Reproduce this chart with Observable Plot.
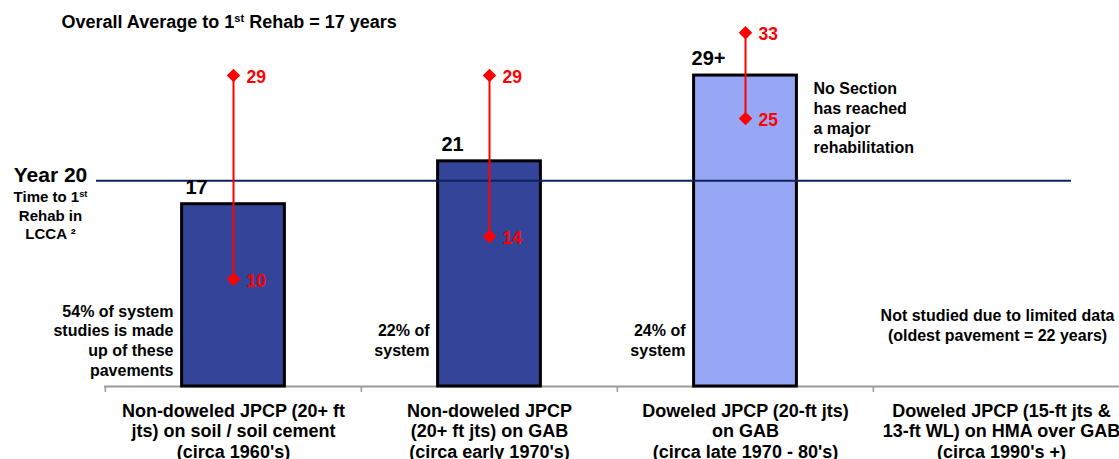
<!DOCTYPE html>
<html><head><meta charset="utf-8">
<script src="https://cdn.jsdelivr.net/npm/d3@7"></script>
<script src="https://cdn.jsdelivr.net/npm/@observablehq/plot@0.6"></script>
<style>
html,body{margin:0;padding:0;background:#fff;overflow:hidden;}
</style></head><body><div id="chart"></div>
<script>
// ---- data ----
const categories = [
  "Non-doweled JPCP (20+ ft\njts) on soil / soil cement\n(circa 1960's)",
  "Non-doweled JPCP\n(20+ ft jts) on GAB\n(circa early 1970's)",
  "Doweled JPCP (20-ft jts)\non GAB\n(circa late 1970 - 80's)",
  "Doweled JPCP (15-ft jts &\n13-ft WL) on HMA over GAB\n(circa 1990's +)"
];
const averageYears = [17, 21, 29, null];
const averageLabels = ["17", "21", "29+", null];
const reachedRehab = [true, true, false, null];
const minYears = [10, 14, 25, null];
const maxYears = [29, 29, 33, null];
const shareNotes = [
  "54% of system\nstudies is made\nup of these\npavements",
  "22% of\nsystem",
  "24% of\nsystem",
  null
];
const benchmarkYear = 19.2; // drawn "Year 20" line position
const titleText = "Overall Average to 1^st Rehab = 17 years";
const benchmarkLabel = "Year 20";
const benchmarkNote = "Time to 1^st\nRehab in\nLCCA ²";
const noRehabNote = "No Section\nhas reached\na major\nrehabilitation";
const notStudiedNote = "Not studied due to limited data\n(oldest pavement = 22 years)";

// ---- table ----
const rows = categories.map((cat, i) => ({
  cat, avg: averageYears[i], label: averageLabels[i], reached: reachedRehab[i],
  min: minYears[i], max: maxYears[i], note: shareNotes[i]
}));
const measured = rows.filter(d => d.avg != null);
const ends = measured.flatMap(d => [{cat: d.cat, v: d.min}, {cat: d.cat, v: d.max}]);

const DARK = "#334499", LIGHT = "#97a7f6", RED = "#ff0000";
const FONT = "'Liberation Sans', Arial, Helvetica, sans-serif";

const chart = Plot.plot({
  width: 1119,
  height: 459,
  marginLeft: 104,
  marginRight: 0,
  marginTop: 0,
  marginBottom: 73,
  style: {fontFamily: FONT, fontWeight: "bold", background: "#fff", color: "#000"},
  x: {domain: categories, range: [104, 1129], padding: 0, axis: null},
  y: {domain: [0, 36], axis: null},
  marks: [
    Plot.ruleY([0], {stroke: "#999", strokeWidth: 2}),
    Plot.barY(measured, {
      x: "cat", y: "avg",
      fill: d => d.reached ? DARK : LIGHT,
      stroke: "#000", strokeWidth: 3,
      insetLeft: 76.6, insetRight: 76.6
    }),
    Plot.ruleX(categories, {x: d => d, y1: 0, y2: -0.55, dx: -128.125, stroke: "#999", strokeWidth: 1.5}),
    Plot.ruleY([benchmarkYear], {stroke: "#0b2160", strokeWidth: 2, insetLeft: -8, insetRight: 48}),
    Plot.ruleX(measured, {x: "cat", y1: "min", y2: "max", stroke: RED, strokeWidth: 2}),
    Plot.dot(ends, {x: "cat", y: "v", symbol: "diamond2", r: 6.1, fill: RED, stroke: "none"}),
    Plot.text(ends, {x: "cat", y: "v", text: d => String(d.v), fill: RED, fontSize: 17.5, textAnchor: "start", dx: 13, dy: 2}),
    Plot.text(measured, {x: "cat", y: "avg", text: "label", fill: "#000", fontSize: 20, dx: -37, dy: -17}),
    Plot.text(measured, {x: "cat", text: "note", frameAnchor: "top", lineAnchor: "middle", dy: 339.5, dx: -60, textAnchor: "end", fontSize: 16, lineHeight: 1.24, fill: "#000"}),
    Plot.text([noRehabNote], {x: () => categories[2], text: d => d, frameAnchor: "top", lineAnchor: "middle", dy: 117, dx: 68, textAnchor: "start", fontSize: 16, lineHeight: 1.22, fill: "#000"}),
    Plot.text([notStudiedNote], {x: () => categories[3], text: d => d, frameAnchor: "top", lineAnchor: "middle", dy: 324, dx: -4, textAnchor: "middle", fontSize: 16, lineHeight: 1.25, fill: "#000"}),
    Plot.text([titleText], {text: d => d, frameAnchor: "top-left", lineAnchor: "middle", dx: -43, dy: 22, textAnchor: "start", fontSize: 18, fill: "#000"}),
    Plot.text([benchmarkLabel], {text: d => d, frameAnchor: "top-left", lineAnchor: "middle", dx: -54, dy: 175, textAnchor: "middle", fontSize: 21, fill: "#000"}),
    Plot.text([benchmarkNote], {text: d => d, frameAnchor: "top-left", lineAnchor: "middle", dx: -54, dy: 214.5, textAnchor: "middle", fontSize: 15, lineHeight: 1.23, fill: "#000"}),
    Plot.axisX({tickSize: 0, tickPadding: 16, fontSize: 18, lineHeight: 1.13, fill: "#000", label: null, tickFormat: d => d})
  ]
});

// superscripts marked with ^
(function supify(svg){
  const ns = "http://www.w3.org/2000/svg";
  svg.querySelectorAll("text, tspan").forEach(el => {
    if (el.children.length) return;
    const t = el.textContent;
    const m = t.match(/^(.*?)\^(\w+)(.*)$/s);
    if (!m) return;
    el.textContent = "";
    el.append(m[1]);
    const s = document.createElementNS(ns, "tspan");
    s.setAttribute("baseline-shift", "super");
    s.setAttribute("font-size", "62%");
    s.textContent = m[2];
    el.append(s);
    el.append(m[3]);
  });
})(chart);

document.getElementById("chart").append(chart);
</script>
</body></html>
